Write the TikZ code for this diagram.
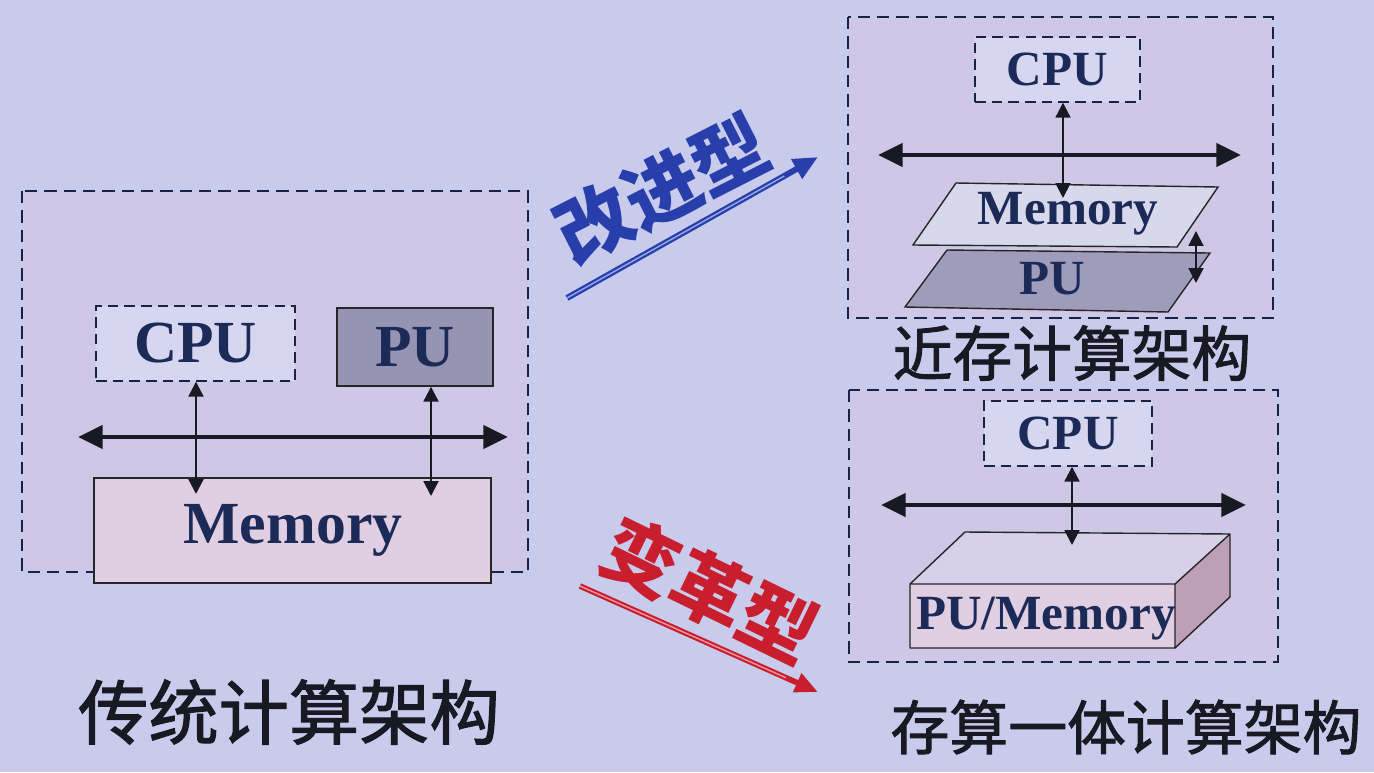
\documentclass[tikz,border=0pt]{standalone}
\usepackage{fontspec}
\setmainfont{Liberation Serif}
\newfontfamily\cjk{Noto Sans CJK SC}
\newfontfamily\cjkmed[FakeBold=1.6]{Noto Sans CJK SC}
\usetikzlibrary{arrows.meta}
\definecolor{bg}{RGB}{201,203,236}
\definecolor{panel}{RGB}{207,199,230}
\definecolor{navy}{RGB}{28,42,88}
\definecolor{ink}{RGB}{25,25,35}
\definecolor{cpufill}{RGB}{214,214,240}
\definecolor{pufill}{RGB}{150,148,178}
\definecolor{memfill}{RGB}{224,206,226}
\definecolor{memlight}{RGB}{216,216,236}
\definecolor{pudark}{RGB}{158,156,186}
\definecolor{cubetop}{RGB}{214,208,234}
\definecolor{cubeside}{RGB}{190,160,182}
\definecolor{blueA}{RGB}{40,62,170}
\definecolor{blueL}{RGB}{150,170,230}
\definecolor{redA}{RGB}{200,30,45}
\definecolor{redL}{RGB}{240,150,160}
\tikzset{
  outerbox/.style={draw=navy!80!black,dash pattern=on 7pt off 4pt,line width=0.8pt},
  cpubox/.style={draw=navy!80!black,dash pattern=on 6pt off 3.5pt,line width=0.8pt,fill=cpufill,inner sep=0pt},
  solidbox/.style={draw=black!85,line width=0.8pt,inner sep=0pt},
  en/.style={text=navy,font=\bfseries},
  bus/.style={line width=2.8pt,draw=ink,{Triangle[length=14pt,width=13pt]}-{Triangle[length=14pt,width=13pt]}},
  link/.style={line width=1.2pt,draw=ink,{Triangle[length=8.5pt,width=8.5pt]}-{Triangle[length=8.5pt,width=8.5pt]}},
  title/.style={text=ink},
}
\begin{document}
\begin{tikzpicture}[x=0.02cm,y=-0.02cm]
\fill[bg] (0,0) rectangle (1374,772);
\useasboundingbox (0,0) rectangle (1374,772);

% ---------------- left: traditional ----------------
\fill[panel] (22,191) rectangle (528,572);
\draw[outerbox] (22,191) rectangle (528,572);
\node[cpubox,minimum width=3.98cm,minimum height=1.5cm] (lcpu) at (195.5,343.5) {};
\node[en,font=\bfseries\fontsize{34}{34}\selectfont] at (lcpu.center) {CPU};
\node[solidbox,fill=pufill,minimum width=3.12cm,minimum height=1.56cm] (lpu) at (415,347) {};
\node[en,font=\bfseries\fontsize{34}{34}\selectfont] at (lpu.center) {PU};
\node[solidbox,fill=memfill,minimum width=7.94cm,minimum height=2.1cm] (lmem) at (292.5,530.5) {};
\node[en,font=\bfseries\fontsize{34}{34}\selectfont] at (293,530) {Memory};
\coordinate (lbusL) at (78,437);
\coordinate (lbusR) at (508,437);
\draw[bus] (lbusL) -- (lbusR);
\coordinate (lc1) at (196,494);
\coordinate (lc2) at (431,496);
\draw[link] (lcpu.south -| lc1) -- (lc1);
\draw[link] (lpu.south -| lc2) -- (lc2);
\node[title,font=\cjkmed\fontsize{40}{40}\selectfont] (t1) at (289,712) {传统计算架构};

% ---------------- top right: near-memory ----------------
\fill[panel] (848,17) rectangle (1273,318);
\draw[outerbox] (848,17) rectangle (1273,318);
\node[cpubox,minimum width=3.3cm,minimum height=1.3cm] (tcpu) at (1057.5,69.5) {};
\node[en,font=\bfseries\fontsize{28}{28}\selectfont] at (tcpu.center) {CPU};
\coordinate (tbusL) at (878,155);
\coordinate (tbusR) at (1241,155);
\draw[bus] (tbusL) -- (tbusR);
% PU layer
\coordinate (p1) at (947,250); \coordinate (p2) at (1210,253);
\coordinate (p3) at (1168,312); \coordinate (p4) at (905,307);
\fill[pudark] (p1) -- (p2) -- (p3) -- (p4) -- cycle;
\draw[black!85,line width=0.8pt] (p1) -- (p2) -- (p3) -- (p4) -- cycle;
% Memory layer
\coordinate (m1) at (956,183); \coordinate (m2) at (1218,187);
\coordinate (m3) at (1177,247); \coordinate (m4) at (913,245);
\fill[memlight] (m1) -- (m2) -- (m3) -- (m4) -- cycle;
\draw[black!85,line width=0.8pt] (m1) -- (m2) -- (m3) -- (m4) -- cycle;
\node[en,font=\bfseries\fontsize{28}{28}\selectfont] (tmem) at (1068,214) {Memory};
\node[en,font=\bfseries\fontsize{28}{28}\selectfont] (tpu) at (1052,279) {PU};
\coordinate (tc1) at (1063,198);
\draw[link] (tcpu.south -| tc1) -- (tc1);
\coordinate (ta) at (1196,231); \coordinate (tb) at (1196,283);
\draw[link] (ta) -- (tb);
\node[title,font=\cjkmed\fontsize{34}{34}\selectfont] (t2) at (1072,353) {近存计算架构};

% ---------------- bottom right: in-memory ----------------
\fill[panel] (849,390) rectangle (1278,662);
\draw[outerbox] (849,390) rectangle (1278,662);
\node[cpubox,minimum width=3.36cm,minimum height=1.3cm] (bcpu) at (1068,433.5) {};
\node[en,font=\bfseries\fontsize{28}{28}\selectfont] at (bcpu.center) {CPU};
\coordinate (bbusL) at (881,505);
\coordinate (bbusR) at (1246,505);
\draw[bus] (bbusL) -- (bbusR);
% cuboid
\coordinate (f1) at (910,584); \coordinate (f2) at (1175,584);
\coordinate (f3) at (1175,648); \coordinate (f4) at (910,648);
\coordinate (k1) at (965,532); \coordinate (k2) at (1230,534);
\coordinate (k3) at (1230,597);
\fill[cubetop] (f1) -- (k1) -- (k2) -- (f2) -- cycle;
\fill[cubeside] (f2) -- (k2) -- (k3) -- (f3) -- cycle;
\fill[memfill] (f1) rectangle (f3);
\draw[black!85,line width=0.8pt,line join=round] (f1) -- (k1) -- (k2) -- (f2) -- cycle (k2) -- (k3) -- (f3) (f1) rectangle (f3);
\node[en,font=\bfseries\fontsize{28}{28}\selectfont] (bpm) at (1046,619) {PU/Memory};
\coordinate (bc1) at (1072,545);
\draw[link] (bcpu.south -| bc1) -- (bc1);
\node[title,font=\cjkmed\fontsize{33.5}{34}\selectfont] (t3) at (1126,727) {存算一体计算架构};

% ---------------- transition arrows ----------------
\coordinate (a1s) at (567,298); \coordinate (a1e) at (818,157);
\draw[blueA,line width=3.4pt,-{Triangle[length=14pt,width=12pt]}] (a1s) -- (a1e);
\draw[blueL,line width=0.8pt,shorten >=22pt] (a1s) -- (a1e);
\node[text=blueA,font=\cjk\bfseries\fontsize{43}{43}\selectfont,rotate=27] (gj) at (662,189) {改进型};

\coordinate (a2s) at (580,586); \coordinate (a2e) at (818,692);
\draw[redA,line width=3.2pt,-{Triangle[length=13pt,width=11pt]}] (a2s) -- (a2e);
\draw[redL,line width=0.8pt,shorten >=20pt] (a2s) -- (a2e);
\node[text=redA,font=\cjk\bfseries\fontsize{43}{43}\selectfont,rotate=-26] (bg2) at (710,590) {变革型};
\end{tikzpicture}
\end{document}
